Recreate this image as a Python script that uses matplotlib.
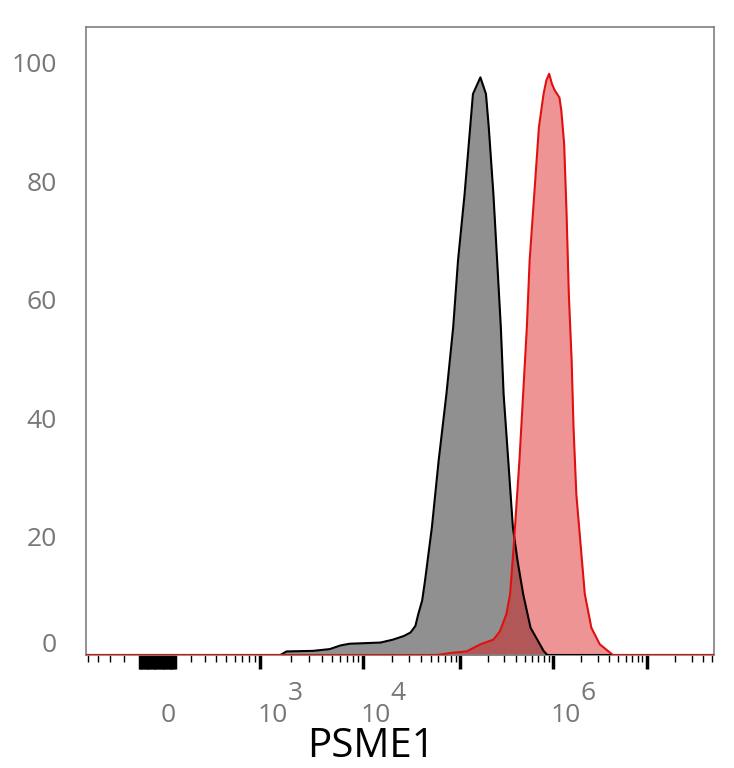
import numpy as np
import matplotlib.pyplot as plt
from matplotlib import transforms

plt.rcParams['font.family'] = ['Open Sans', 'DejaVu Sans']

# Histogramme PSME1 : log10 de l'intensité et % du max
gray_logx = [3.20, 3.26, 3.52, 3.68, 3.78, 3.87, 4.18, 4.31, 4.42, 4.49, 4.54, 4.57,
             4.61, 4.64, 4.68, 4.71, 4.78, 4.86, 4.93, 4.98, 5.05, 5.11, 5.14, 5.22,
             5.28, 5.31, 5.36, 5.40, 5.44, 5.47, 5.52, 5.57, 5.62, 5.68, 5.76, 5.90, 5.94]
gray_pct = [0.0, 0.6, 0.7, 1.0, 1.6, 1.9, 2.1, 2.6, 3.2, 3.8, 4.9, 6.9,
            9.2, 12.6, 17.7, 21.5, 32.8, 44.0, 55.3, 66.6, 77.8, 89.1, 94.7, 97.5,
            94.7, 89.1, 77.8, 66.6, 55.3, 44.0, 32.8, 21.5, 15.9, 10.3, 4.6, 0.7, 0.0]

red_logx = [4.76, 4.93, 5.07, 5.22, 5.36, 5.43, 5.50, 5.54, 5.58, 5.64, 5.68, 5.72,
            5.75, 5.80, 5.85, 5.90, 5.93, 5.96, 5.99, 6.02, 6.07, 6.09, 6.12, 6.145,
            6.17, 6.20, 6.22, 6.25, 6.28, 6.34, 6.41, 6.50, 6.64]
red_pct = [0.0, 0.4, 0.6, 1.8, 2.6, 4.0, 6.9, 10.3, 18.7, 32.8, 44.0, 55.3,
           66.6, 77.8, 89.1, 94.7, 97.0, 98.1, 96.4, 95.3, 94.1, 91.9, 86.3, 75.0,
           60.9, 49.7, 38.4, 27.1, 21.5, 10.3, 4.6, 1.8, 0.0]

y_ticks = [0, 20, 40, 60, 80, 100]
x_labels = [(0, '0', None), (1e3, '10', '3'), (1e4, '10', '4'), (1e6, '10', '6')]

x_min, x_max = -527, 5.2e7

# Échelle biexponentielle (linéaire autour de 0, log au-delà)
lin_w = 300.0
dec_vals = np.array([0, 1e3, 1e4, 1e5, 1e6, 1e7, 1e8])
dec_pos = np.array([0, 103, 206, 303, 396, 490, 584], float)
dec_t = np.arcsinh(dec_vals / lin_w)


def fwd(x):
    x = np.asarray(x, float)
    t = np.arcsinh(np.abs(x) / lin_w)
    return np.sign(x) * np.interp(t, dec_t, dec_pos)


def inv(u):
    u = np.asarray(u, float)
    t = np.interp(np.abs(u), dec_pos, dec_t)
    return np.sign(u) * lin_w * np.sinh(t)


fig = plt.figure(figsize=(7.34, 7.68), dpi=100)
ax = fig.add_axes([86 / 734, 1 - 655 / 768, 628 / 734, 628 / 768])
ax.set_xscale('function', functions=(fwd, inv))

gx = np.concatenate([[x_min], 10 ** np.array(gray_logx), [x_max]])
gy = np.concatenate([[0], gray_pct, [0]])
rx = np.concatenate([[x_min], 10 ** np.array(red_logx), [x_max]])
ry = np.concatenate([[0], red_pct, [0]])

ax.fill_between(gx, gy, color='#909090', lw=0, zorder=1)
ax.fill_between(rx, ry, color='#dd1313', alpha=0.45, lw=0, zorder=1.5)
ax.plot(gx, gy, color='black', lw=1.5, zorder=3)
ax.plot(rx, ry, color='#e01010', lw=1.5, zorder=3.1)

# Graduations
major = list(np.arange(-100, 101, 10)) + [1e3, 1e4, 1e5, 1e6, 1e7]
minor = [-k * 100 for k in range(2, 10)]
for d in range(2, 8):
    minor += [k * 10 ** d for k in range(2, 10)]
ax.set_xticks(major)
ax.set_xticks([m for m in minor if x_min < m < x_max], minor=True)
ax.set_xticklabels([])
ax.tick_params(axis='x', which='major', length=10, width=2.5, color='black')
ax.tick_params(axis='x', which='minor', length=4.7, width=1.0, color='black')

ax.set_xlim(x_min, x_max)
ax.set_ylim(0, 106)

ax.set_yticks(y_ticks)
ax.set_yticklabels([str(v) for v in y_ticks])
ax.tick_params(axis='y', length=0, pad=21, labelsize=19, labelcolor='#777777')
shift = transforms.ScaledTranslation(0, 13 / 100, fig.dpi_scale_trans)
t0 = ax.yaxis.get_major_ticks()[0].label1
t0.set_transform(t0.get_transform() + shift)

for s in ax.spines.values():
    s.set_color('#808080')
    s.set_linewidth(1.2)

# Étiquettes de l'axe x (style FlowJo)
blend = transforms.blended_transform_factory(ax.transData, fig.transFigure)
for val, base, ex in x_labels:
    dx = 10.5 if ex is None else 13
    tr = blend + transforms.ScaledTranslation(dx / 100, 0, fig.dpi_scale_trans)
    ax.text(val, 1 - 722 / 768, base, transform=tr, ha='center', va='baseline',
            fontsize=19, color='#777777', clip_on=False)
    if ex is not None:
        tr2 = blend + transforms.ScaledTranslation(35 / 100, 0, fig.dpi_scale_trans)
        ax.text(val, 1 - 700 / 768, ex, transform=tr2, ha='center', va='baseline',
                fontsize=19, color='#777777', clip_on=False)

fig.text(371 / 734, 1 - 757 / 768, 'PSME1', ha='center', va='baseline',
         fontsize=29, color='black')

fig.savefig('out.png', dpi=100)
